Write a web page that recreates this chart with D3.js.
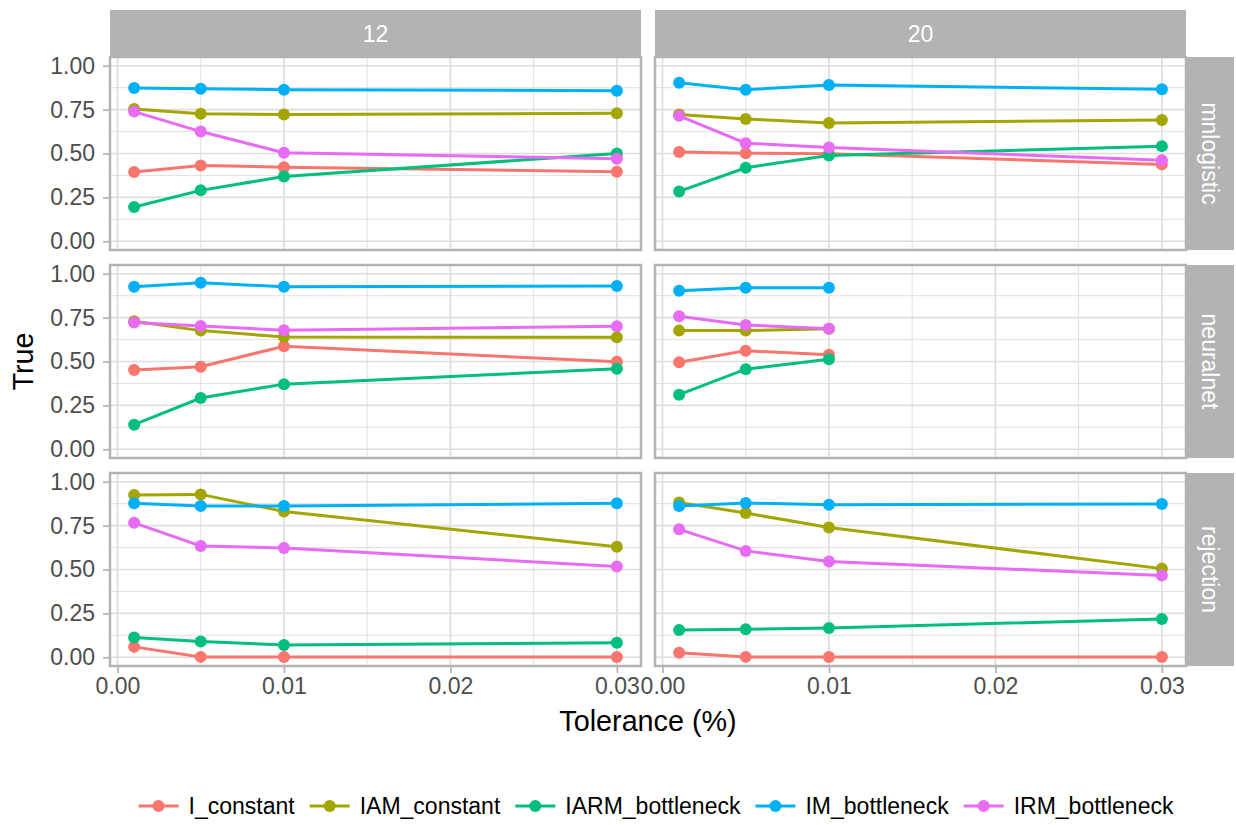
<!DOCTYPE html>
<html>
<head>
<meta charset="utf-8">
<script src="https://cdn.jsdelivr.net/npm/d3@7"></script>
<style>
  body { margin: 0; background: #ffffff; }
  text { font-family: "Liberation Sans", Arial, sans-serif; }
</style>
</head>
<body>
<div id="chart"></div>
<script>
var tolerance = [0.001, 0.005, 0.01, 0.03];
var sizes = ["12", "20"];
var methods = ["mnlogistic", "neuralnet", "rejection"];
var models = ["I_constant", "IAM_constant", "IARM_bottleneck", "IM_bottleneck", "IRM_bottleneck"];
var colors = ["#F8766D", "#A3A500", "#00BF7D", "#00B0F6", "#E76BF3"];
var xTicks = [0, 0.01, 0.02, 0.03];
var xMinor = [0.005, 0.015, 0.025];
var yTicks = [0, 0.25, 0.5, 0.75, 1];
var yMinor = [0.125, 0.375, 0.625, 0.875];

// rows follow the order of models
var mnlogistic12 = [
    [0.394, 0.432, 0.422, 0.396],
    [0.754, 0.727, 0.722, 0.729],
    [0.195, 0.290, 0.369, 0.500],
    [0.873, 0.869, 0.864, 0.858],
    [0.739, 0.625, 0.504, 0.470]
];
var mnlogistic20 = [
    [0.508, 0.502, 0.498, 0.438],
    [0.722, 0.697, 0.674, 0.691],
    [0.284, 0.419, 0.489, 0.542],
    [0.903, 0.864, 0.890, 0.866],
    [0.715, 0.559, 0.534, 0.461]
];
var neuralnet12 = [
    [0.451, 0.470, 0.587, 0.498],
    [0.729, 0.676, 0.640, 0.638],
    [0.140, 0.292, 0.371, 0.458],
    [0.926, 0.949, 0.926, 0.930],
    [0.722, 0.703, 0.678, 0.701]
];
var neuralnet20 = [
    [0.496, 0.561, 0.538],
    [0.676, 0.676, 0.686],
    [0.311, 0.456, 0.513],
    [0.903, 0.920, 0.920],
    [0.758, 0.708, 0.686]
];
var rejection12 = [
    [0.059, 0.002, 0.001, 0.001],
    [0.924, 0.928, 0.831, 0.629],
    [0.112, 0.089, 0.070, 0.083],
    [0.877, 0.862, 0.862, 0.877],
    [0.766, 0.634, 0.623, 0.517]
];
var rejection20 = [
    [0.025, 0.002, 0.001, 0.001],
    [0.882, 0.822, 0.739, 0.505],
    [0.155, 0.160, 0.167, 0.218],
    [0.862, 0.879, 0.869, 0.873],
    [0.729, 0.606, 0.546, 0.466]
];

var panelData = [
    [mnlogistic12, mnlogistic20],
    [neuralnet12, neuralnet20],
    [rejection12, rejection20]
];

var W = 1236, H = 825;
var left = 110, top0 = 57;
var pw = 531, ph = 193;
var gapX = 14, gapY = 15;
var stripH = 47;
var fs = 23;

var svg = d3.select("#chart").append("svg")
    .attr("width", W)
    .attr("height", H);

var x = d3.scaleLinear().domain([-0.00045, 0.03145]).range([0, pw]);
var y = d3.scaleLinear().domain([-0.05, 1.05]).range([ph, 0]);

var line = d3.line()
    .x(function (d) { return x(d.t); })
    .y(function (d) { return y(d.v); });

for (var r = 0; r < methods.length; r++) {
    for (var c = 0; c < sizes.length; c++) {
        var px = left + c * (pw + gapX);
        var py = top0 + r * (ph + gapY);
        var g = svg.append("g").attr("transform", "translate(" + px + "," + py + ")");

        // grid
        g.selectAll(".xminor").data(xMinor).enter().append("line")
            .attr("x1", function (d) { return x(d); }).attr("x2", function (d) { return x(d); })
            .attr("y1", 0).attr("y2", ph)
            .attr("stroke", "#dedede").attr("stroke-width", 0.9);
        g.selectAll(".yminor").data(yMinor).enter().append("line")
            .attr("y1", function (d) { return y(d); }).attr("y2", function (d) { return y(d); })
            .attr("x1", 0).attr("x2", pw)
            .attr("stroke", "#dedede").attr("stroke-width", 0.9);
        g.selectAll(".xmajor").data(xTicks).enter().append("line")
            .attr("x1", function (d) { return x(d); }).attr("x2", function (d) { return x(d); })
            .attr("y1", 0).attr("y2", ph)
            .attr("stroke", "#dedede").attr("stroke-width", 1.7);
        g.selectAll(".ymajor").data(yTicks).enter().append("line")
            .attr("y1", function (d) { return y(d); }).attr("y2", function (d) { return y(d); })
            .attr("x1", 0).attr("x2", pw)
            .attr("stroke", "#dedede").attr("stroke-width", 1.7);

        // series
        var panel = panelData[r][c];
        var series = panel.map(function (vals, i) {
            return {
                color: colors[i],
                pts: vals.map(function (v, j) { return { t: tolerance[j], v: v }; })
            };
        });
        g.selectAll(".series").data(series).enter().append("path")
            .attr("d", function (d) { return line(d.pts); })
            .attr("fill", "none")
            .attr("stroke", function (d) { return d.color; })
            .attr("stroke-width", 3);
        series.forEach(function (s) {
            g.selectAll(null).data(s.pts).enter().append("circle")
                .attr("cx", function (d) { return x(d.t); })
                .attr("cy", function (d) { return y(d.v); })
                .attr("r", 6)
                .attr("fill", s.color);
        });

        // border
        g.append("rect")
            .attr("width", pw).attr("height", ph)
            .attr("fill", "none")
            .attr("stroke", "#b3b3b3").attr("stroke-width", 2.5);

        // y axis on left column
        if (c == 0) {
            var ya = g.append("g")
                .call(d3.axisLeft(y).tickValues(yTicks).tickFormat(d3.format(".2f")).tickSize(7).tickPadding(8));
            ya.select(".domain").remove();
            ya.selectAll("line").attr("stroke", "#b3b3b3").attr("stroke-width", 1.7);
            ya.selectAll("text").attr("fill", "#4d4d4d").style("font-size", fs + "px")
                .style("font-family", "Liberation Sans, Arial, sans-serif");
        }
        // x axis on bottom row
        if (r == methods.length - 1) {
            var xa = g.append("g")
                .attr("transform", "translate(0," + ph + ")")
                .call(d3.axisBottom(x).tickValues(xTicks).tickFormat(d3.format(".2f")).tickSize(7).tickPadding(5));
            xa.select(".domain").remove();
            xa.selectAll("line").attr("stroke", "#b3b3b3").attr("stroke-width", 1.7);
            xa.selectAll("text").attr("fill", "#4d4d4d").style("font-size", fs + "px")
                .style("font-family", "Liberation Sans, Arial, sans-serif");
        }
        // top strips
        if (r == 0) {
            svg.append("rect")
                .attr("x", px).attr("y", top0 - stripH)
                .attr("width", pw).attr("height", stripH)
                .attr("fill", "#b3b3b3");
            svg.append("text")
                .attr("x", px + pw / 2).attr("y", top0 - stripH / 2)
                .attr("dy", "0.36em")
                .attr("text-anchor", "middle")
                .attr("fill", "#ffffff")
                .style("font-size", fs + "px")
                .text(sizes[c]);
        }
        // right strips
        if (c == sizes.length - 1) {
            var sx = px + pw + 1;
            svg.append("rect")
                .attr("x", sx).attr("y", py)
                .attr("width", stripH).attr("height", ph)
                .attr("fill", "#b3b3b3");
            svg.append("text")
                .attr("transform", "translate(" + (sx + stripH / 2) + "," + (py + ph / 2) + ") rotate(90)")
                .attr("dy", "0.36em")
                .attr("text-anchor", "middle")
                .attr("fill", "#ffffff")
                .style("font-size", fs + "px")
                .text(methods[r]);
        }
    }
}

// axis titles
svg.append("text")
    .attr("x", left + (2 * pw + gapX) / 2)
    .attr("y", 731)
    .attr("text-anchor", "middle")
    .attr("fill", "#000000")
    .style("font-size", "28.75px")
    .text("Tolerance (%)");

svg.append("text")
    .attr("transform", "translate(33," + (top0 + (3 * ph + 2 * gapY) / 2) + ") rotate(-90)")
    .attr("text-anchor", "middle")
    .attr("fill", "#000000")
    .style("font-size", "28.75px")
    .text("True");

// legend
var keyW = 40, keyGap = 10, itemGap = 15, legY = 806;
var legend = svg.append("g");
var cursor = 0;
models.forEach(function (m, i) {
    var item = legend.append("g").attr("transform", "translate(" + cursor + ",0)");
    item.append("line")
        .attr("x1", 0).attr("x2", keyW)
        .attr("y1", legY).attr("y2", legY)
        .attr("stroke", colors[i]).attr("stroke-width", 3);
    item.append("circle")
        .attr("cx", keyW / 2).attr("cy", legY).attr("r", 6)
        .attr("fill", colors[i]);
    var t = item.append("text")
        .attr("x", keyW + keyGap).attr("y", legY)
        .attr("dy", "0.36em")
        .attr("fill", "#000000")
        .style("font-size", fs + "px")
        .text(m);
    cursor += keyW + keyGap + t.node().getComputedTextLength() + itemGap;
});
var legW = cursor - itemGap;
legend.attr("transform", "translate(" + (656 - legW / 2) + ",0)");
</script>
</body>
</html>
